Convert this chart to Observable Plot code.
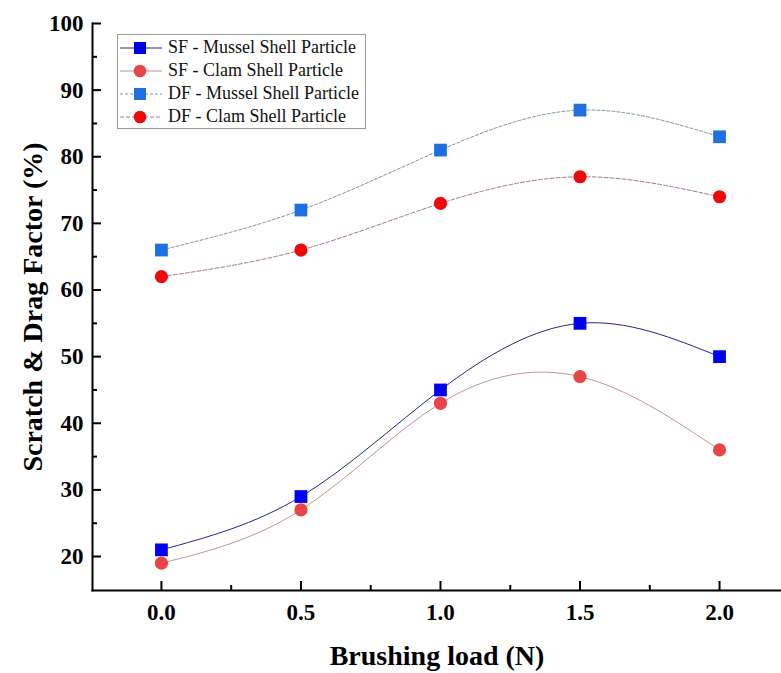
<!DOCTYPE html>
<html>
<head>
<meta charset="utf-8">
<script src="https://cdn.jsdelivr.net/npm/d3@7"></script>
<script src="https://cdn.jsdelivr.net/npm/@observablehq/plot@0.6"></script>
<style>
  body { margin: 0; background: #fff; }
  #wrap { position: relative; width: 781px; height: 673px; font-family: "Liberation Serif", "Times New Roman", serif; }
  #legend { position: absolute; left: 117px; top: 34px; width: 249px; height: 95px; border: 1px solid #9a9a9a; box-sizing: border-box; background: #fff; }
  .row { position: absolute; left: 0; height: 23px; display: flex; align-items: center; font-size: 18px; color: #111; white-space: nowrap; }
  .row svg { display: block; margin-right: 4px; }
</style>
</head>
<body>
<div id="wrap"><div id="chart"></div><div id="legend"></div></div>
<script>
// ---- data ----
const loads = [0.0, 0.5, 1.0, 1.5, 2.0];
const sfMussel = [21, 29, 45, 55, 50];
const sfClam = [19, 27, 43, 47, 36];
const dfMussel = [66, 72, 81, 87, 83];
const dfClam = [62, 66, 73, 77, 74];
const seriesNames = ["SF - Mussel Shell Particle", "SF - Clam Shell Particle", "DF - Mussel Shell Particle", "DF - Clam Shell Particle"];
const seriesValues = [sfMussel, sfClam, dfMussel, dfClam];
const xTicks = [0.0, 0.5, 1.0, 1.5, 2.0];
const xMinorTicks = [0.25, 0.75, 1.25, 1.75];
const yTicks = [20, 30, 40, 50, 60, 70, 80, 90, 100];
const yMinorTicks = [25, 35, 45, 55, 65, 75, 85, 95];
const xLabel = "Brushing load (N)";
const yLabel = "Scratch & Drag Factor (%)";

// ---- styles ----
const markerFill = ["#0000f0", "#e84646", "#1f6fe0", "#ee0a0a"];
const markerSymbol = ["square", "circle", "square", "circle"];
const markerR = [7.2, 6.6, 7.2, 6.6];
const lineStroke = ["#24248a", "#c89090", "#7893ad", "#a87a7a"];
const lineDash = [null, null, "3,2", "4,2"];

const rows = seriesNames.flatMap((s, i) => loads.map((x, j) => ({series: s, idx: i, x, y: seriesValues[i][j]})));

const font = "Liberation Serif, Times New Roman, serif";
const marks = [];
seriesNames.forEach((s, i) => {
  const d = rows.filter(r => r.idx === i);
  marks.push(Plot.line(d, {x: "x", y: "y", curve: "natural", stroke: lineStroke[i], strokeWidth: 1, strokeDasharray: lineDash[i]}));
});
seriesNames.forEach((s, i) => {
  const d = rows.filter(r => r.idx === i);
  marks.push(Plot.dot(d, {x: "x", y: "y", symbol: markerSymbol[i], r: markerR[i], fill: markerFill[i], stroke: "none"}));
});

const chart = Plot.plot({
  width: 781,
  height: 673,
  marginLeft: 92,
  marginRight: 0,
  marginTop: 23,
  marginBottom: 83,
  style: {fontFamily: font, background: "#fff", color: "#000"},
  x: {domain: [-0.247, 2.222], axis: null},
  y: {domain: [14.9, 100], axis: null},
  marks: [
    ...marks,
    Plot.frame({anchor: "left", strokeWidth: 2, stroke: "#000"}),
    Plot.frame({anchor: "bottom", strokeWidth: 2, stroke: "#000"}),
    Plot.axisX(xTicks, {anchor: "bottom", tickSize: -9, strokeWidth: 2, fill: "none"}),
    Plot.axisX(xMinorTicks, {anchor: "bottom", tickSize: -5, strokeWidth: 2, fill: "none"}),
    Plot.axisY(yTicks, {anchor: "left", tickSize: -9, strokeWidth: 2, fill: "none"}),
    Plot.axisY(yMinorTicks, {anchor: "left", tickSize: -5, strokeWidth: 2, fill: "none"}),
    Plot.axisX(xTicks, {anchor: "bottom", tickSize: 0, tickPadding: 13, fontSize: 23, fontWeight: "bold", tickFormat: d => d.toFixed(1), label: null}),
    Plot.axisY(yTicks, {anchor: "left", tickSize: 0, tickPadding: 9, fontSize: 23, fontWeight: "bold", label: null}),
    Plot.axisX([], {anchor: "bottom", tickSize: 0, label: xLabel, labelAnchor: "center", labelArrow: "none", labelOffset: 74, fontSize: 28, fontWeight: "bold"}),
    Plot.axisY([], {anchor: "left", tickSize: 0, label: yLabel, labelAnchor: "center", labelArrow: "none", labelOffset: 70, fontSize: 28, fontWeight: "bold"})
  ]
});
document.getElementById("chart").appendChild(chart);

// ---- legend ----
const legend = document.getElementById("legend");
seriesNames.forEach((s, i) => {
  const row = document.createElement("div");
  row.className = "row";
  row.style.top = (1 + i * 23) + "px";
  const dash = lineDash[i] ? `stroke-dasharray="${lineDash[i]}"` : "";
  const sym = markerSymbol[i] === "square"
    ? `<rect x="16" y="5" width="12" height="12" fill="${markerFill[i]}"/>`
    : `<circle cx="22" cy="11" r="6.3" fill="${markerFill[i]}"/>`;
  row.innerHTML = `<svg width="46" height="22"><line x1="2" x2="44" y1="11" y2="11" stroke="${lineStroke[i]}" stroke-width="1" ${dash}/>${sym}</svg><span>${s}</span>`;
  legend.appendChild(row);
});
</script>
</body>
</html>
